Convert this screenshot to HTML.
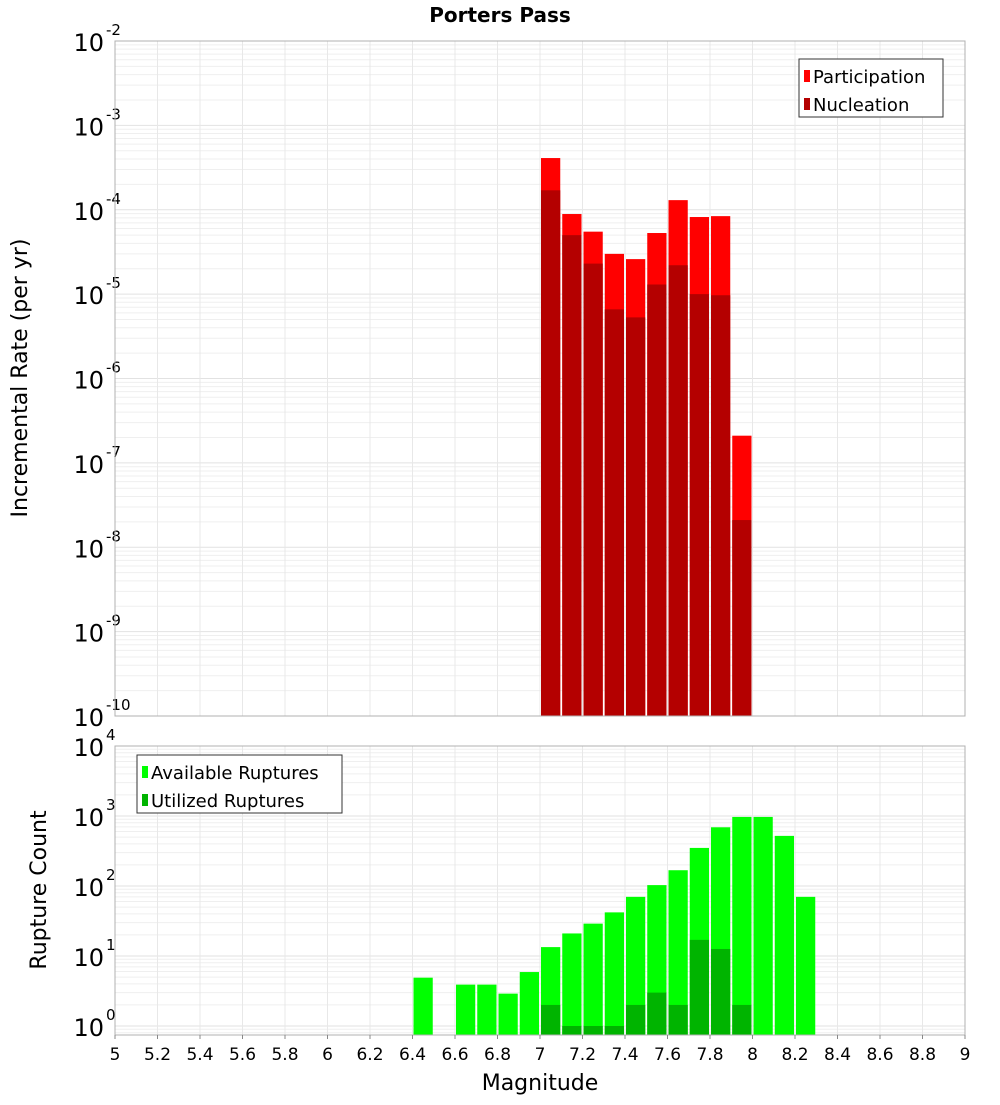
<!DOCTYPE html>
<html><head><meta charset="utf-8"><style>
body{margin:0;background:#fff;}
svg text{font-family:"DejaVu Sans","Liberation Sans",sans-serif;}
</style></head><body>
<svg id="c" width="1000" height="1100" xmlns="http://www.w3.org/2000/svg">
<text x="500" y="22" text-anchor="middle" font-size="20" font-weight="bold">Porters Pass</text>
<g id="top"></g><g id="bot"></g>
<text transform="translate(27,378) rotate(-90)" text-anchor="middle" font-size="22">Incremental Rate (per yr)</text>
<text transform="translate(46,890) rotate(-90)" text-anchor="middle" font-size="22">Rupture Count</text>
<text x="540" y="1090" text-anchor="middle" font-size="22">Magnitude</text>
</svg>
<script>
const mags=[7.05,7.15,7.25,7.35,7.45,7.55,7.65,7.75,7.85,7.95];
const participation=[4.1e-4,8.9e-5,5.5e-5,3.0e-5,2.6e-5,5.3e-5,1.3e-4,8.2e-5,8.4e-5,2.1e-7];
const nucleation=[1.7e-4,5.0e-5,2.3e-5,6.6e-6,5.3e-6,1.3e-5,2.2e-5,1.0e-5,9.7e-6,2.1e-8];
const availMags=[6.45,6.65,6.75,6.85,6.95,7.05,7.15,7.25,7.35,7.45,7.55,7.65,7.75,7.85,7.95,8.05,8.15,8.25];
const available=[4.9,3.9,3.9,2.9,5.9,13.4,21,29,42,70,103,168,350,690,970,970,520,70];
const utilMags=[7.05,7.15,7.25,7.35,7.45,7.55,7.65,7.75,7.85,7.95];
const utilized=[2,1,1,1,2,3,2,17,12.6,2];
const xTicks=[5,5.2,5.4,5.6,5.8,6,6.2,6.4,6.6,6.8,7,7.2,7.4,7.6,7.8,8,8.2,8.4,8.6,8.8,9];
const topExps=[-2,-3,-4,-5,-6,-7,-8,-9,-10];
const botExps=[4,3,2,1,0];
const NS="http://www.w3.org/2000/svg";
const L=115,R=965;
const x=m=>L+(m-5)*(R-L)/4;
function mk(p,t,a,name){const e=document.createElementNS(NS,t);for(const k in a)e.setAttribute(k,a[k]);


p.appendChild(e);return e;}
function panel(g,top,bottom,yOf,lo,hi,exps){
 mk(g,'rect',{x:L,y:top,width:R-L,height:bottom-top,fill:'#fff'},'plot-area');
 for(let e=lo;e<hi;e++)for(let k=1;k<10;k++){const yy=yOf(k*Math.pow(10,e));if(yy<top||yy>bottom)continue;
  mk(g,'line',{x1:L,x2:R,y1:yy,y2:yy,stroke:k==1?'#e2e2e2':'#efefef','stroke-width':1},'grid-line-h');}
 xTicks.forEach(t=>mk(g,'line',{x1:x(t),x2:x(t),y1:top,y2:bottom,stroke:'#e8e8e8'},'grid-line-v'));
 exps.forEach(e=>{const yy=yOf(Math.pow(10,e));const t=mk(g,'text',{x:104,y:yy+10,'text-anchor':'end','font-size':24},'y-tick-label');
  t.textContent='10';const s=mk(g,'text',{x:106,y:yy-6,'font-size':15},'y-tick-exp');s.textContent=String(e);});
}
function bars(g,ms,vals,yOf,bottom,col,name){ms.forEach((m,i)=>{const yy=yOf(vals[i]);
 mk(g,'rect',{x:x(m-0.05)+1,y:yy,width:(R-L)/40-2,height:bottom-yy,fill:col},name);});}
// top
const tg=document.getElementById('top');const T0=41,T1=716;
const yT=v=>T0+(-2-Math.log10(v))*(T1-T0)/8;
panel(tg,T0,T1,yT,-10,-2,topExps);
bars(tg,mags,participation,yT,T1,'#ff0000','participation-bar');
bars(tg,mags,nucleation,yT,T1,'#b40000','nucleation-bar');
mk(tg,'rect',{x:L,y:T0,width:R-L,height:T1-T0,fill:'none',stroke:'#b0b0b0'},'plot-border');
// bottom
const bg=document.getElementById('bot');const B0=746,B1=1035;
const yB=v=>B0+(4-Math.log10(v))*70;
panel(bg,B0,B1,yB,-1,4,botExps);
bars(bg,availMags,available,yB,B1,'#00ff00','available-bar');
bars(bg,utilMags,utilized,yB,B1,'#00b400','utilized-bar');
mk(bg,'rect',{x:L,y:B0,width:R-L,height:B1-B0,fill:'none',stroke:'#b0b0b0'},'plot-border');
xTicks.forEach(t=>{const e=mk(bg,'text',{x:x(t),y:1060,'text-anchor':'middle','font-size':17},'x-tick-label');e.textContent=String(t);
 mk(bg,'line',{x1:x(t),x2:x(t),y1:B1,y2:B1+4,stroke:'#888'},'x-tick');});
// legends
function legend(g,lx,ly,w,items){mk(g,'rect',{x:lx,y:ly,width:w,height:58,fill:'#fff',stroke:'#333'},'legend-box');
 items.forEach((it,i)=>{mk(g,'rect',{x:lx+5,y:ly+11+i*28,width:6,height:12,fill:it[1]},'legend-swatch');
 const t=mk(g,'text',{x:lx+14,y:ly+24+i*28,'font-size':18},'legend-entry');t.textContent=it[0];});}
legend(tg,799,59,144,[['Participation','#ff0000'],['Nucleation','#b40000']]);
legend(bg,137,755,205,[['Available Ruptures','#00ff00'],['Utilized Ruptures','#00b400']]);
</script>
</body></html>
